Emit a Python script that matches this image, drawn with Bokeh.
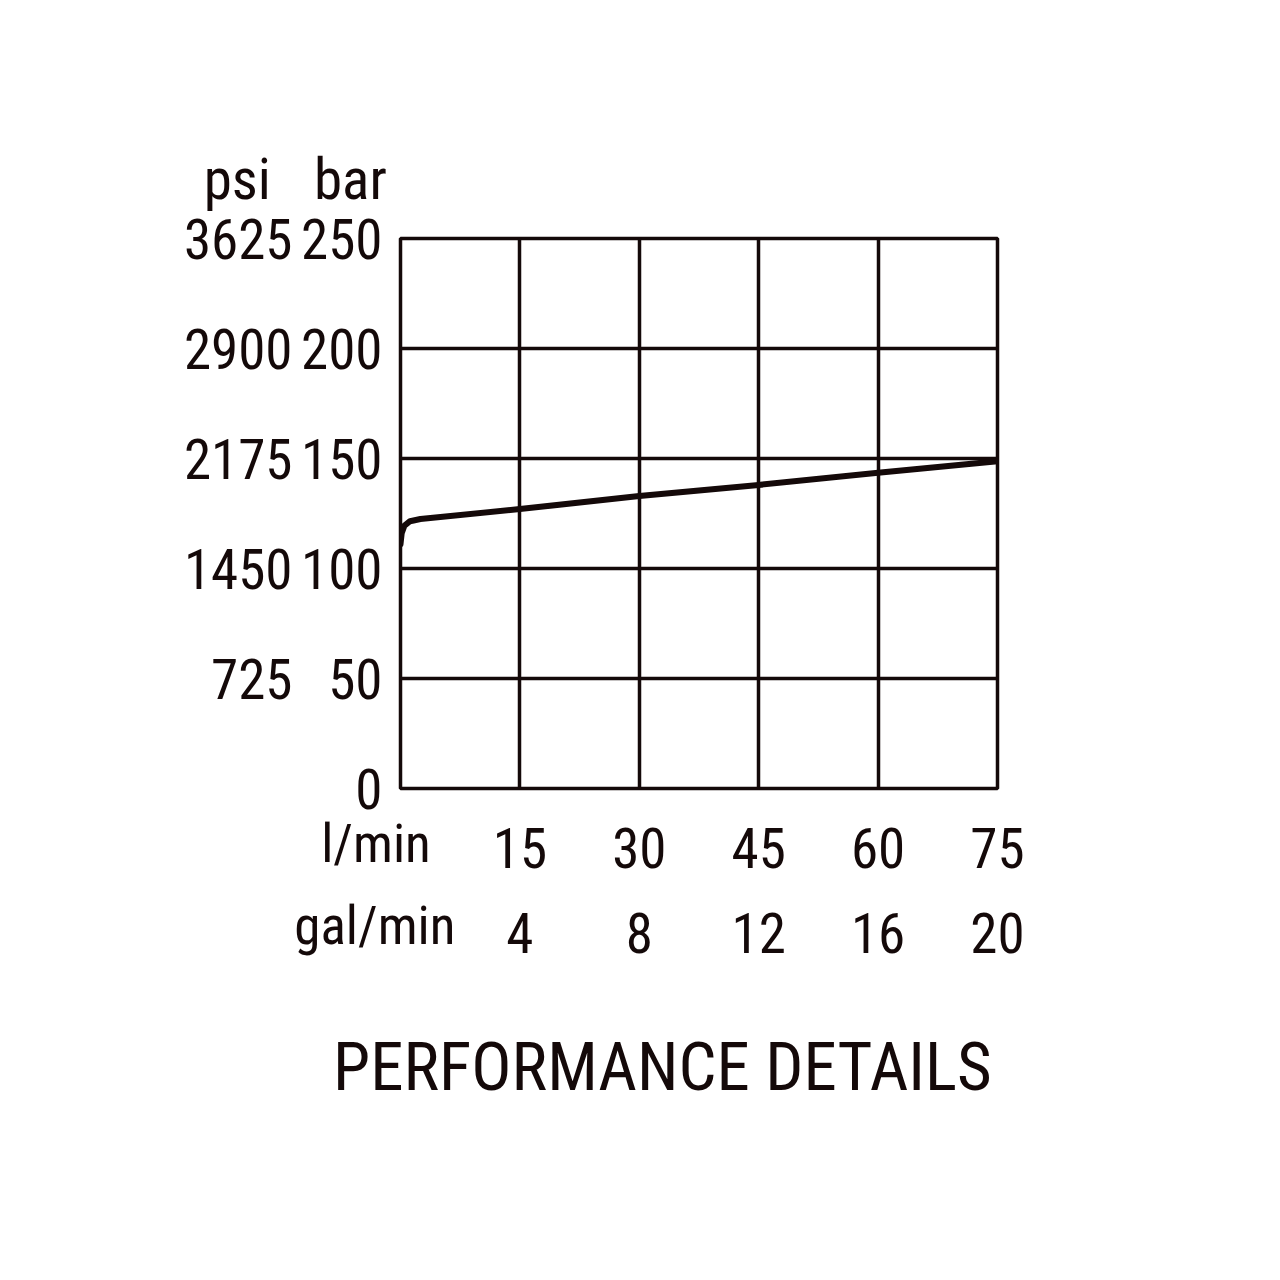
from bokeh.plotting import figure
from bokeh.models import LinearAxis, FixedTicker, Label
from bokeh.embed import file_html
from bokeh.resources import INLINE

# Pressure vs. flow curve
flow_lpm = [0, 0.15, 0.5, 1.2, 2.5, 15, 30, 45, 60, 75]
pressure_bar = [111, 116, 119.5, 121.5, 122.5, 127, 133, 138, 143.5, 148.8]

# Axis ticks
bar_ticks = [0, 50, 100, 150, 200, 250]
flow_ticks = [15, 30, 45, 60, 75]
PSI_PER_BAR = 14.5
LPM_PER_GPM = 3.785

FONT = "Roboto Condensed"
INK = "#140909"
TICK_SIZE = "55px"

p = figure(width=1280, height=1280, x_range=(0, 75), y_range=(0, 250),
           x_axis_location=None, y_axis_location=None,
           min_border_left=400, min_border_right=283,
           min_border_top=238, min_border_bottom=492,
           output_backend="svg", toolbar_location=None)
p.background_fill_color = "white"
p.border_fill_color = "white"
p.outline_line_color = INK
p.outline_line_width = 3.5

# Grid
p.xgrid.ticker = FixedTicker(ticks=[0] + flow_ticks)
p.ygrid.ticker = FixedTicker(ticks=bar_ticks)
for g in (p.xgrid, p.ygrid):
    g.grid_line_color = INK
    g.grid_line_width = 3.5
    g.grid_line_alpha = 1.0


def style_axis(ax, standoff):
    ax.axis_line_color = None
    ax.major_tick_line_color = None
    ax.minor_tick_line_color = None
    ax.major_label_text_font = FONT
    ax.major_label_text_font_size = TICK_SIZE
    ax.major_label_text_color = INK
    ax.major_label_standoff = standoff


# bar (inner) and psi (outer) scales on the left
bar_axis = LinearAxis(ticker=FixedTicker(ticks=bar_ticks))
style_axis(bar_axis, 12)
p.add_layout(bar_axis, "left")

psi_axis = LinearAxis(ticker=FixedTicker(ticks=bar_ticks))
psi_axis.major_label_overrides = {t: ("" if t == 0 else str(int(round(t * PSI_PER_BAR))))
                                  for t in bar_ticks}
style_axis(psi_axis, 0)
p.add_layout(psi_axis, "left")

# l/min (inner) and gal/min (outer) scales below
lpm_axis = LinearAxis(ticker=FixedTicker(ticks=flow_ticks))
style_axis(lpm_axis, 33)
p.add_layout(lpm_axis, "below")

gpm_axis = LinearAxis(ticker=FixedTicker(ticks=flow_ticks))
gpm_axis.major_label_overrides = {t: str(int(round(t / LPM_PER_GPM))) for t in flow_ticks}
style_axis(gpm_axis, 36)
p.add_layout(gpm_axis, "below")

# Curve
p.line(flow_lpm, pressure_bar, line_width=6, line_color=INK, line_join="round", line_cap="round")


# Unit captions and title, placed in the side panels
def caption(text, x, y, side, size="57px", align="center"):
    p.add_layout(Label(x=x, y=y, text=text, text_font=FONT, text_font_size=size,
                       text_color=INK, text_align=align, text_baseline="alphabetic"), side)


caption("psi", -20.5, 276.8, "above")
caption("bar", -6.3, 276.8, "above")
caption("l/min", 3.8, -25.4, "below", size="53px", align="right")
caption("gal/min", 6.9, -62.4, "below", size="53px", align="right")
caption("PERFORMANCE DETAILS", 32.9, -126.4, "below", size="67px")

open("out.html", "w").write(file_html(p, INLINE))
